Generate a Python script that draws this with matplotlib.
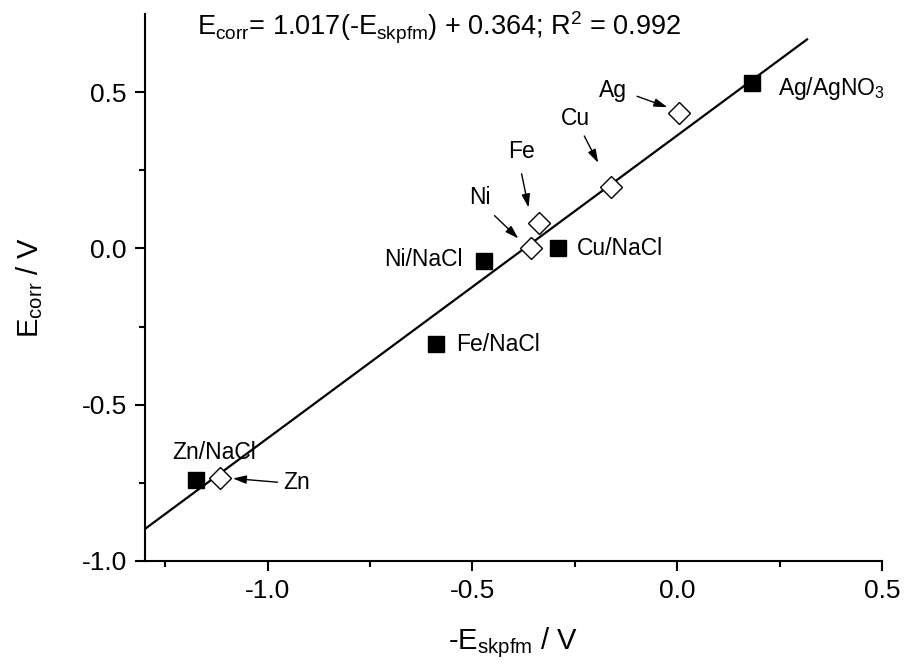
import matplotlib
matplotlib.use("Agg")
import matplotlib.pyplot as plt

plt.rcParams['font.family'] = ['Liberation Sans', 'DejaVu Sans']
plt.rcParams['mathtext.fontset'] = 'custom'
plt.rcParams['mathtext.rm'] = 'Liberation Sans'
plt.rcParams['mathtext.it'] = 'Liberation Sans'
plt.rcParams['mathtext.default'] = 'rm'

# --- data ---
solution_labels = ["Ag/AgNO$_3$", "Cu/NaCl", "Ni/NaCl", "Fe/NaCl", "Zn/NaCl"]
solution_x = [0.183, -0.290, -0.473, -0.590, -1.176]
solution_y = [0.529, 0.003, -0.041, -0.306, -0.742]

metal_labels = ["Ag", "Cu", "Fe", "Ni", "Zn"]
metal_x = [0.005, -0.161, -0.337, -0.356, -1.117]
metal_y = [0.433, 0.197, 0.080, 0.000, -0.736]

fit_x = [-1.30, 0.317]
fit_y = [-0.898, 0.669]

x_ticks = [-1.0, -0.5, 0.0, 0.5]
y_ticks = [-1.0, -0.5, 0.0, 0.5]

fig = plt.figure(figsize=(9.05, 6.71), dpi=100)
ax = fig.add_axes([0.160, 0.164, 0.8146, 0.815])

ax.plot(fit_x, fit_y, color='black', lw=1.6, zorder=2)
ax.plot(solution_x, solution_y, ls='none', marker='s', ms=11.5,
        mfc='black', mec='black', zorder=3)
ax.plot(metal_x, metal_y, ls='none', marker='D', ms=11.3,
        mfc='white', mec='black', mew=1.0, zorder=4)

ax.set_xlim(-1.3, 0.5)
ax.set_ylim(-1.0, 0.75)
ax.set_xticks(x_ticks)
ax.set_yticks(y_ticks)
ax.set_xticks([-1.25, -0.75, -0.25, 0.25], minor=True)
ax.set_yticks([-0.75, -0.25, 0.25], minor=True)
ax.set_xticklabels([f"{v:.1f}" for v in x_ticks])
ax.set_yticklabels([f"{v:.1f}" for v in y_ticks])
for s in ['top', 'right']:
    ax.spines[s].set_visible(False)
for s in ['left', 'bottom']:
    ax.spines[s].set_linewidth(1.5)
ax.tick_params(which='major', direction='out', length=7, width=1.5,
               labelsize=19, pad=6)
ax.tick_params(which='minor', direction='out', length=4, width=1.5)

ax.set_xlabel(r'-E$_{\mathrm{skpfm}}$ / V', fontsize=21, labelpad=16)
ax.set_ylabel(r'E$_{\mathrm{corr}}$ / V', fontsize=21, labelpad=26)

ax.text(0.0706, 0.960,
        r'E$_{\mathrm{corr}}$= 1.017(-E$_{\mathrm{skpfm}}$) + 0.364; R$^2$ = 0.992',
        transform=ax.transAxes, fontsize=19.5, ha='left', va='baseline')

fs = 16.5
# solution labels
sol_text = [(0.246, 0.513, 'left'), (-0.244, 0.0, 'left'), (-0.524, -0.035, 'right'),
            (-0.541, -0.306, 'left'), (-1.232, -0.653, 'left')]
for lab, (tx, ty, ha) in zip(solution_labels, sol_text):
    ax.text(tx, ty, lab, fontsize=fs, ha=ha, va='center')

# metal labels with arrows
metal_text = [(-0.156, 0.506, 'center'), (-0.249, 0.417, 'center'),
              (-0.380, 0.309, 'center'), (-0.483, 0.162, 'center'),
              (-0.961, -0.748, 'left')]
arrows = [((-0.098, 0.487), (-0.024, 0.452)),
          ((-0.227, 0.360), (-0.193, 0.274)),
          ((-0.380, 0.239), (-0.363, 0.131)),
          ((-0.446, 0.105), (-0.388, 0.032)),
          ((-0.976, -0.748), (-1.085, -0.736))]
for lab, (tx, ty, ha), (a0, a1) in zip(metal_labels, metal_text, arrows):
    ax.text(tx, ty, lab, fontsize=fs, ha=ha, va='center')
    ax.annotate('', xy=a1, xytext=a0,
                arrowprops=dict(arrowstyle='-|>,head_length=0.8,head_width=0.25',
                                color='black', lw=1.0, shrinkA=0, shrinkB=0))

fig.savefig('out.png', dpi=100)
